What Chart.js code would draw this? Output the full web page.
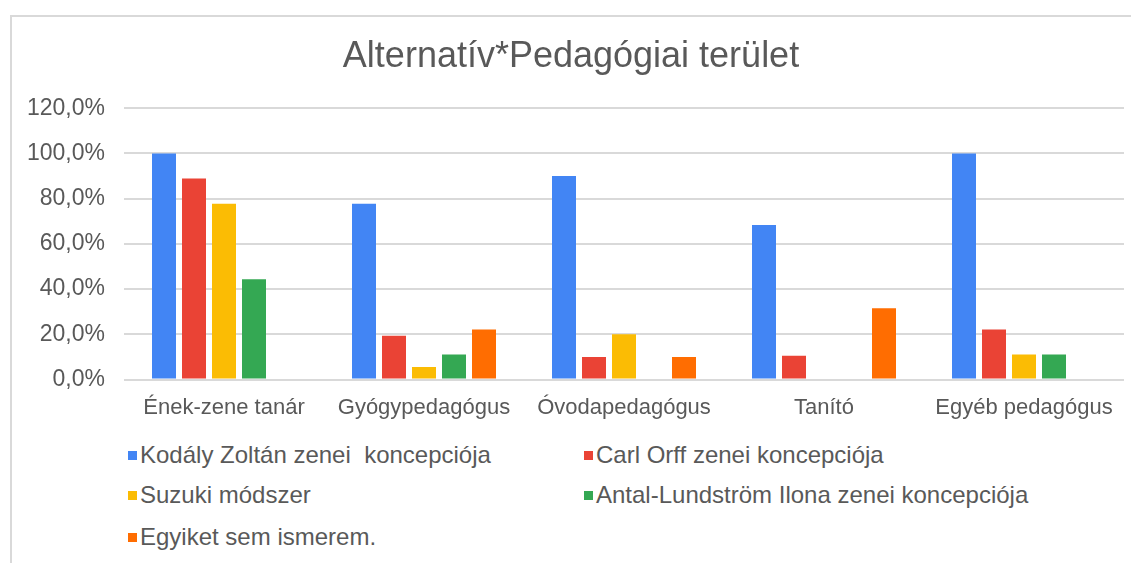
<!DOCTYPE html>
<html>
<head>
<meta charset="utf-8">
<script src="https://cdn.jsdelivr.net/npm/chart.js@4"></script>
<style>
  body { margin: 0; background: #fff; font-family: "Liberation Sans", Arial, sans-serif; }
  #frame { position: absolute; left: 10px; top: 15px; width: 1121px; height: 548px;
           border-top: 2px solid #d9d9d9; border-left: 2px solid #d9d9d9; box-sizing: border-box; }
  #wrap { position: absolute; left: 10px; top: 15px; width: 1121px; height: 421px; }
  #legend { position: absolute; left: 0; top: 0; }
  .item { position: absolute; white-space: pre; font-size: 24px; color: #595959; line-height: 26px; }
  .item span.box { display: inline-block; width: 9px; height: 9px; margin-right: 3px; vertical-align: 3px; }
</style>
</head>
<body>
<div id="frame"></div>
<div id="wrap"><canvas id="chart"></canvas></div>
<div id="legend"></div>
<script>
// categories and series (percent)
const categories = ["Ének-zene tanár", "Gyógypedagógus", "Óvodapedagógus", "Tanító", "Egyéb pedagógus"];
const seriesNames = [
  "Kodály Zoltán zenei  koncepciója",
  "Carl Orff zenei koncepciója",
  "Suzuki módszer",
  "Antal-Lundström Ilona zenei koncepciója",
  "Egyiket sem ismerem."
];
const kodaly = [100, 77.8, 90, 68.4, 100];
const orff = [88.9, 19.4, 10, 10.5, 22.2];
const suzuki = [77.8, 5.6, 20, 0, 11.1];
const antal = [44.4, 11.1, 0, 0, 11.1];
const egyiket = [0, 22.2, 10, 31.6, 0];
const colors = ["#4285F4", "#EA4335", "#FBBC04", "#34A853", "#FF6D01"];
const yTicks = [0, 20, 40, 60, 80, 100, 120];

const seriesValues = [kodaly, orff, suzuki, antal, egyiket];
const textColor = "#595959";
const fontFam = "'Liberation Sans', Arial, sans-serif";

const ctx = document.getElementById("chart").getContext("2d");
const chart = new Chart(ctx, {
  type: "bar",
  data: {
    labels: categories,
    datasets: seriesNames.map((name, i) => ({
      label: name,
      data: seriesValues[i],
      backgroundColor: colors[i],
      categoryPercentage: 0.75,
      barPercentage: 0.8,
    })),
  },
  options: {
    responsive: true,
    maintainAspectRatio: false,
    animation: false,
    layout: { padding: { left: 8, right: 7, bottom: 0 } },
    plugins: {
      legend: { display: false },
      tooltip: { enabled: false },
      title: {
        display: true,
        text: "Alternatív*Pedagógiai terület",
        color: textColor,
        font: { family: fontFam, size: 36, weight: "normal" },
        padding: { top: 20, bottom: 30 },
      },
    },
    scales: {
      x: {
        grid: { display: false, drawTicks: false },
        border: { display: false },
        ticks: { color: textColor, font: { family: fontFam, size: 22 }, padding: 15 },
      },
      y: {
        min: 0,
        max: 120,
        afterBuildTicks: (scale) => {
          scale.ticks = yTicks.map((v) => ({ value: v }));
        },
        afterFit: (scale) => {
          scale.width = 106;
        },
        grid: { color: "#d9d9d9", lineWidth: 2, drawTicks: false },
        border: { display: false },
        ticks: {
          color: textColor,
          font: { family: fontFam, size: 23 },
          padding: 19,
          callback: (v) => v.toFixed(1).replace(".", ",") + "%",
        },
      },
    },
  },
});

// legend in two columns, built from the datasets
const legend = document.getElementById("legend");
const colX = [128, 584];
const rowY = [442, 482, 524];
chart.data.datasets.forEach((ds, i) => {
  const el = document.createElement("div");
  el.className = "item";
  el.style.left = colX[i % 2] + "px";
  el.style.top = rowY[Math.floor(i / 2)] + "px";
  el.innerHTML = `<span class="box" style="background:${ds.backgroundColor}"></span>${ds.label}`;
  legend.appendChild(el);
});
</script>
</body>
</html>
